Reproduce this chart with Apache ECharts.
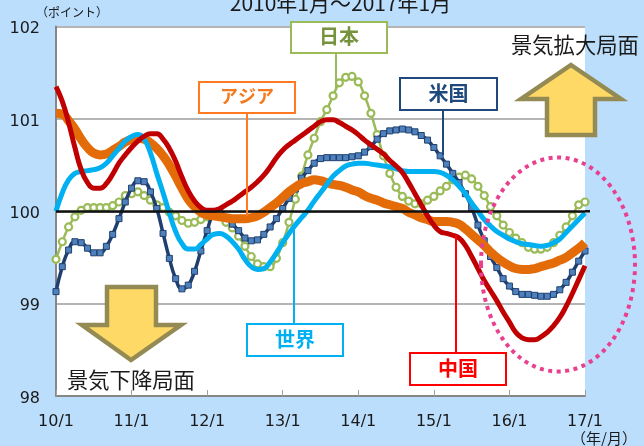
<!DOCTYPE html>
<html><head><meta charset="utf-8">
<style>html,body{margin:0;padding:0;background:#BBDEFD}#c{width:644px;height:446px}</style>
<script src="https://cdn.jsdelivr.net/npm/echarts@6/dist/echarts.min.js"></script>
</head><body><div id="c"></div>
<script>
const yearLabels = ['10/1','11/1','12/1','13/1','14/1','15/1','16/1','17/1'];
const yTicks = {min:98, max:102, step:1};
const usa = [99.13,99.40,99.58,99.67,99.66,99.60,99.55,99.55,99.62,99.75,99.92,100.10,100.25,100.33,100.32,100.21,100.03,99.76,99.49,99.27,99.16,99.20,99.35,99.57,99.79,99.97,100.00,99.93,99.86,99.79,99.71,99.68,99.69,99.75,99.83,99.92,100.03,100.14,100.24,100.36,100.44,100.52,100.57,100.58,100.58,100.58,100.58,100.59,100.60,100.64,100.70,100.78,100.84,100.87,100.88,100.89,100.88,100.86,100.82,100.77,100.69,100.60,100.51,100.41,100.31,100.19,100.04,99.85,99.68,99.51,99.39,99.27,99.19,99.13,99.10,99.10,99.09,99.08,99.08,99.10,99.15,99.23,99.34,99.46,99.57];
const japan = [99.48,99.67,99.83,99.94,100.01,100.04,100.04,100.04,100.04,100.06,100.10,100.17,100.19,100.21,100.17,100.12,100.07,100.04,99.99,99.95,99.90,99.87,99.88,99.91,99.94,99.97,99.96,99.88,99.82,99.73,99.62,99.51,99.43,99.40,99.40,99.49,99.66,99.88,100.13,100.38,100.61,100.79,100.97,101.10,101.25,101.39,101.45,101.46,101.40,101.25,101.06,100.83,100.60,100.41,100.26,100.16,100.11,100.08,100.08,100.12,100.16,100.22,100.27,100.34,100.37,100.39,100.35,100.27,100.17,100.05,99.95,99.85,99.77,99.71,99.66,99.61,99.59,99.59,99.61,99.66,99.74,99.83,99.95,100.07,100.10];
const world = [100.00,100.20,100.34,100.41,100.43,100.44,100.45,100.47,100.52,100.60,100.68,100.76,100.81,100.83,100.78,100.63,100.41,100.20,99.98,99.78,99.65,99.59,99.59,99.64,99.70,99.75,99.76,99.73,99.67,99.59,99.48,99.40,99.37,99.38,99.45,99.55,99.66,99.76,99.85,99.93,100.01,100.11,100.20,100.29,100.38,100.44,100.49,100.51,100.52,100.52,100.51,100.50,100.49,100.48,100.46,100.44,100.43,100.43,100.43,100.43,100.43,100.42,100.39,100.34,100.27,100.19,100.09,100.00,99.91,99.84,99.78,99.74,99.70,99.67,99.65,99.64,99.63,99.62,99.63,99.66,99.70,99.77,99.84,99.91,99.98];
const asia = [101.06,101.05,100.98,100.89,100.78,100.69,100.63,100.61,100.62,100.66,100.70,100.75,100.78,100.79,100.78,100.74,100.68,100.60,100.50,100.38,100.25,100.13,100.05,99.99,99.96,99.95,99.94,99.93,99.92,99.92,99.92,99.93,99.95,99.99,100.04,100.09,100.15,100.21,100.26,100.30,100.32,100.34,100.33,100.31,100.29,100.28,100.26,100.23,100.21,100.17,100.14,100.12,100.09,100.07,100.05,100.03,99.99,99.96,99.93,99.91,99.89,99.89,99.89,99.88,99.86,99.81,99.75,99.69,99.63,99.56,99.50,99.45,99.41,99.38,99.37,99.37,99.38,99.40,99.42,99.44,99.47,99.50,99.55,99.60,99.66];
const china = [101.35,101.19,100.96,100.69,100.45,100.31,100.25,100.25,100.30,100.40,100.52,100.61,100.69,100.76,100.81,100.84,100.84,100.78,100.68,100.54,100.37,100.22,100.11,100.04,100.01,100.01,100.03,100.07,100.11,100.16,100.21,100.26,100.32,100.39,100.48,100.58,100.66,100.72,100.77,100.82,100.87,100.92,100.97,100.99,100.99,100.96,100.92,100.88,100.83,100.77,100.72,100.67,100.62,100.55,100.49,100.42,100.31,100.19,100.07,99.95,99.85,99.78,99.76,99.74,99.71,99.63,99.51,99.38,99.25,99.14,99.03,98.91,98.80,98.69,98.63,98.61,98.61,98.64,98.69,98.76,98.85,98.97,99.11,99.26,99.41];
const referenceLevel = 100;

const FONT = '"DejaVu Sans", "Noto Sans CJK JP", sans-serif';
const CJK = '"Noto Sans CJK JP", sans-serif';
const categories = usa.map((_, i) => i % 12 === 0 ? yearLabels[i / 12] : 'm' + i);

function calloutBox(x, y, w, h, name, stroke, textColor, lx, ly1, ly2, size) {
  return [
    {type:'line', z:20, shape:{x1:lx,y1:ly1,x2:lx,y2:ly2}, style:{stroke:stroke,lineWidth:2}},
    {type:'rect', z:21, shape:{x:x,y:y,width:w,height:h}, style:{fill:'#fff',stroke:stroke,lineWidth:2}},
    {type:'text', z:22, style:{x:x+w/2,y:y+h/2-1,text:name,fill:textColor,font:'bold '+size+'px '+CJK,align:'center',verticalAlign:'middle'}}
  ];
}
function freeText(x, y, text, size, align) {
  return {type:'text', z:22, style:{x:x,y:y,text:text,fill:'#1a1a1a',font:size+'px '+CJK,align:align||'left',verticalAlign:'middle'}};
}
function arrow(points) {
  return {type:'polygon', z:15, shape:{points:points}, style:{fill:'#FFD966',stroke:'#948A54',lineWidth:4.5,lineJoin:'miter'}};
}
const chart = echarts.init(document.getElementById('c'), null, {renderer:'canvas'});
chart.setOption({
  animation:false,
  backgroundColor:'#BBDEFD',
  title:{text:'2010年1月〜2017年1月', left:335.5, textAlign:'center', top:-12.5,
    textStyle:{fontFamily:CJK,fontSize:21,fontWeight:'normal',color:'#1a1a1a'}},
  grid:{left:56,right:59,top:26.5,bottom:50,show:true,backgroundColor:'#fff',borderWidth:0},
  xAxis:{type:'category',data:categories,boundaryGap:false,
    axisLine:{onZero:false,lineStyle:{color:'#868686',width:2}},
    axisTick:{inside:true,length:6,interval:11,lineStyle:{color:'#a0a0a0',width:1}},
    axisLabel:{interval:11,margin:18,showMaxLabel:true,hideOverlap:false,color:'#1a1a1a',fontFamily:FONT,fontSize:16},
    splitLine:{show:false}},
  yAxis:{type:'value',min:yTicks.min,max:yTicks.max,interval:yTicks.step,
    axisLine:{show:true,lineStyle:{color:'#868686',width:2}},
    axisTick:{show:false},
    axisLabel:{margin:16,verticalAlign:'middle',verticalAlignMinLabel:'middle',verticalAlignMaxLabel:'middle',
      formatter:v => '{n|' + v + '}',
      rich:{n:{color:'#1a1a1a',fontFamily:FONT,fontSize:16,padding:[5,0,0,0]}}},
    splitLine:{show:true,lineStyle:{color:'#b4b4b4',width:2}}},
  series:[
    {name:'日本',type:'line',data:japan,smooth:0.5,z:3,symbol:'circle',symbolSize:7,showAllSymbol:true,
      lineStyle:{color:'#9BBB59',width:2.5},itemStyle:{color:'#fff',borderColor:'#9BBB59',borderWidth:2.2}},
    {name:'米国',type:'line',data:usa,smooth:0.5,z:4,symbol:'rect',symbolSize:6,showAllSymbol:true,
      lineStyle:{color:'#1F3F6E',width:3.5},itemStyle:{color:'#4F81BD',borderColor:'#1F3F6E',borderWidth:1}},
    {name:'アジア',type:'line',data:asia,smooth:0.5,z:5,symbol:'none',lineStyle:{color:'#E36C09',width:9}},
    {name:'世界',type:'line',data:world,smooth:0.5,z:6,symbol:'none',lineStyle:{color:'#00B0F0',width:5}},
    {name:'中国',type:'line',data:china,smooth:0.5,z:7,symbol:'none',lineStyle:{color:'#C00000',width:5}},
    {name:'基準',type:'line',data:[],z:8,symbol:'none',
      markLine:{silent:true,symbol:'none',label:{show:false},z:8,
        lineStyle:{color:'#111',width:2.5,type:'solid'},data:[{yAxis:referenceLevel}]}}
  ],
  graphic:{elements:[].concat(
    calloutBox(291,22,96,31,'日本','#9BBB59','#76923C',336,53,90,20),
    calloutBox(199,82,96,31,'アジア','#FF7A22','#F47A1F',247,113,216,18),
    calloutBox(400,78,97,32,'米国','#1F497D','#1F497D',443,110,155,20),
    calloutBox(247,324,96,32,'世界','#00B0F0','#00B0F0',294,324,230,20),
    calloutBox(410,353,96,32,'中国','#FF0000','#FF0000',456,353,235,20),
    [
      arrow([[571,65],[621,99],[595,99],[595,135],[547,135],[547,99],[521,99]]),
      arrow([[107,287],[156,287],[156,325],[181,325],[131,360],[82,325],[107,325]]),
      freeText(511,45,'景気拡大局面',21.3),
      freeText(67,380,'景気下降局面',21.3),
      freeText(36,12,'（ポイント）',12),
      freeText(571,438,'（年/月）',15),
      {type:'ellipse',z:14,shape:{cx:558,cy:264.5,rx:77,ry:107},
        style:{fill:'none',stroke:'#E8408F',lineWidth:4,lineDash:[4,4.5]}}
    ]
  )}
});
const y100 = chart.convertToPixel({yAxisIndex:0}, referenceLevel);
const xEnd = chart.convertToPixel({xAxisIndex:0}, yearLabels[yearLabels.length-1]);
chart.setOption({graphic:{elements:[{id:'refStub',type:'line',z:8,shape:{x1:xEnd,y1:y100,x2:xEnd+5,y2:y100},style:{stroke:'#111',lineWidth:2.5}}]}});
</script></body></html>
